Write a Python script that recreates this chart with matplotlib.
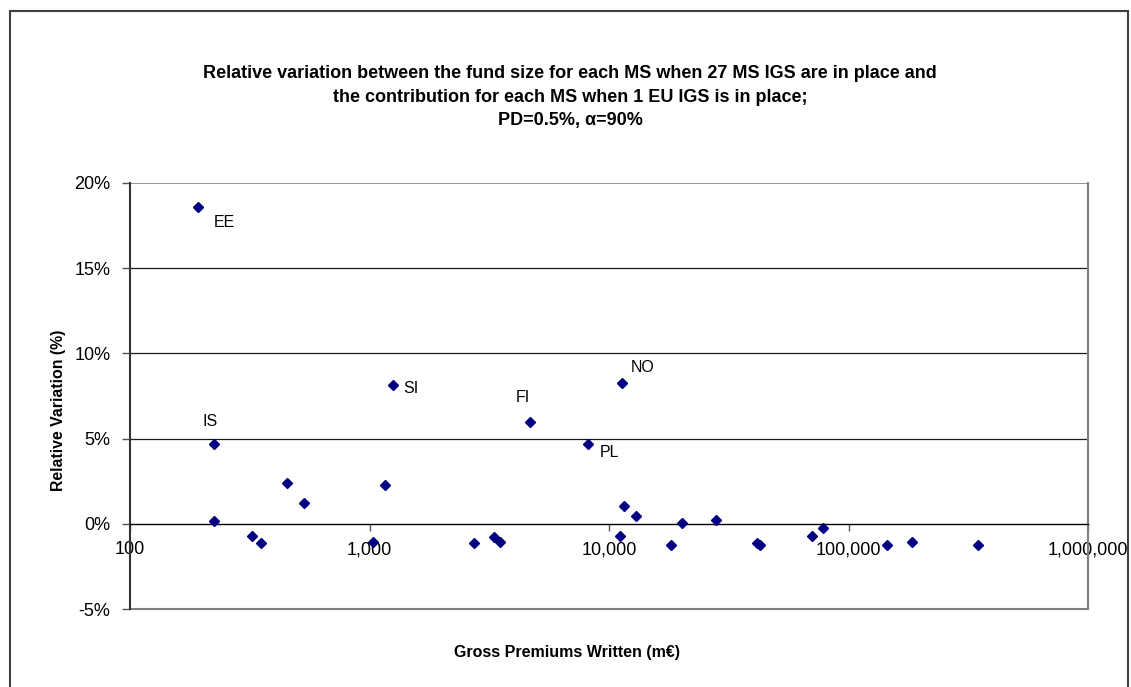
import matplotlib
matplotlib.use("Agg")
import matplotlib.pyplot as plt
from matplotlib.ticker import FixedLocator, NullLocator, FuncFormatter
from matplotlib.patches import Rectangle

plt.rcParams['font.family'] = ['Liberation Sans', 'DejaVu Sans']

# ---------------- data ----------------
gpw = [192, 224, 224, 324, 352, 454, 533, 1038, 1164, 1250,
       2723, 3320, 3506, 4680, 8150, 11370, 11090, 11590, 13000,
       18200, 20200, 28000, 41400, 42660, 70200, 78500, 144600, 184700, 348000]
rel_var = [18.57, 4.66, 0.16, -0.7, -1.1, 2.4, 1.2, -1.04, 2.25, 8.16,
           -1.14, -0.78, -1.06, 6.0, 4.69, 8.25, -0.7, 1.04, 0.43,
           -1.22, 0.06, 0.25, -1.14, -1.22, -0.69, -0.27, -1.22, -1.06, -1.22]
labels = ['EE', 'IS', '', '', '', '', '', '', '', 'SI',
          '', '', '', 'FI', 'PL', 'NO', '', '', '',
          '', '', '', '', '', '', '', '', '', '']
x_ticks = [100, 1000, 10000, 100000, 1000000]
y_ticks = [-5, 0, 5, 10, 15, 20]

title = ("Relative variation between the fund size for each MS when 27 MS IGS are in place and\n"
         "the contribution for each MS when 1 EU IGS is in place;\n"
         "PD=0.5%, \u03b1=90%")

# label placement (offset in pixels, ha)
label_style = {
    'EE': ((16, -15), 'left'),
    'IS': ((-4, 23), 'center'),
    'SI': ((11, -4), 'left'),
    'FI': ((-7, 24), 'center'),
    'NO': ((8, 16), 'left'),
    'PL': ((12, -9), 'left'),
}

W, H, DPI = 1131, 687, 100
fig = plt.figure(figsize=(W / DPI, H / DPI), dpi=DPI)

# outer chart border
fig.patches.append(Rectangle((10 / W, -0.02), (1128 - 10) / W, (H - 11) / H + 0.02,
                             transform=fig.transFigure, fill=False,
                             edgecolor='#404040', linewidth=1.5))

ax = fig.add_axes([130 / W, (H - 609) / H, (1088 - 130) / W, (609 - 183) / H])
ax.set_xscale('log')
ax.set_xlim(100, 1e6)
ax.set_ylim(-5, 20)

# gridlines
for yv in [5, 10, 15]:
    ax.axhline(yv, color='#1a1a1a', linewidth=0.9, zorder=1)
ax.axhline(20, color='#808080', linewidth=1.2, zorder=1)
ax.axhline(-5, color='#808080', linewidth=1.5, zorder=1, clip_on=False)

ax.spines['top'].set_visible(False)
ax.spines['right'].set_color('#808080')
ax.spines['right'].set_linewidth(1.5)
ax.spines['left'].set_color('#333333')
ax.spines['left'].set_linewidth(1.5)
ax.spines['bottom'].set_position(('data', 0))
ax.spines['bottom'].set_color('black')
ax.spines['bottom'].set_linewidth(1.0)

ax.xaxis.set_major_locator(FixedLocator(x_ticks))
ax.xaxis.set_minor_locator(NullLocator())
ax.xaxis.set_major_formatter(FuncFormatter(lambda v, p: f"{int(round(v)):,}"))
ax.yaxis.set_major_locator(FixedLocator(y_ticks))
ax.yaxis.set_major_formatter(FuncFormatter(lambda v, p: f"{int(v)}%"))

ax.tick_params(axis='x', direction='out', length=5, width=1, color='#555555',
               labelsize=13, pad=7.5)
ax.tick_params(axis='y', direction='out', length=6, width=1, color='#555555',
               labelsize=13, pad=8)

ax.plot(gpw, rel_var, linestyle='none', marker='D', markersize=5,
        color='#000080', zorder=3, clip_on=False)

for xv, yv, lab in zip(gpw, rel_var, labels):
    if not lab:
        continue
    (dx, dy), ha = label_style[lab]
    ax.annotate(lab, (xv, yv), xytext=(dx * 0.72, dy * 0.72),
                textcoords='offset points', ha=ha, va='center', fontsize=11.5)

ax.set_ylabel('Relative Variation (%)', fontsize=11.4, fontweight='bold')
ax.yaxis.set_label_coords((66 - 130) / 958, (609 - 410) / 426)
fig.text(567 / W, 1 - 653 / H, 'Gross Premiums Written (m\u20ac)', ha='center', va='center',
         fontsize=11.5, fontweight='bold')
fig.text(570 / W, 1 - 97 / H, title, ha='center', va='center', fontsize=13,
         fontweight='bold', linespacing=1.5)

fig.savefig('out.png', dpi=DPI)
